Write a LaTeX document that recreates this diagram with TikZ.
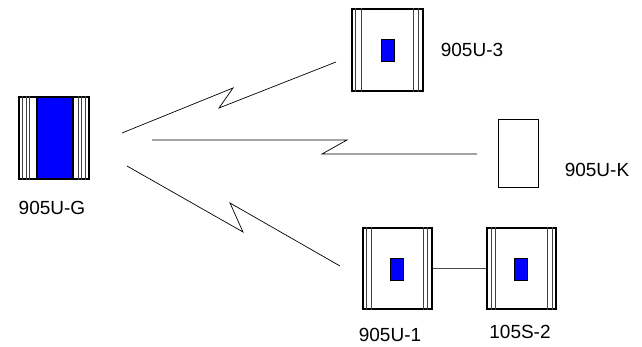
\documentclass[tikz,border=0pt]{standalone}
\usepackage{fontspec}
\setmainfont{Liberation Sans}
\begin{document}
\begin{tikzpicture}[x=1pt,y=-1pt,
  box/.style={rectangle, draw, fill=white, line width=1.2pt, inner sep=0pt, minimum width=70pt, minimum height=82pt},
  led/.style={rectangle, draw, fill=blue, line width=0.6pt, inner sep=0pt, minimum width=13pt, minimum height=22pt},
  rail/.style={draw=black!75, line width=0.5pt},
  radio/.style={draw, line width=0.7pt},
  link/.style={draw=black!70, line width=0.8pt},
  lbl/.style={font=\fontsize{19}{22}\selectfont, inner sep=0pt}]
\useasboundingbox (0,0) rectangle (642,347);
% gateway
\node[box] (gw) at (54,138){};
\draw[rail]([xshift=4pt]gw.north west) -- ([xshift=4pt]gw.south west);
\draw[rail]([xshift=8pt]gw.north west) -- ([xshift=8pt]gw.south west);
\draw[rail]([xshift=11pt]gw.north west) -- ([xshift=11pt]gw.south west);
\draw[rail]([xshift=-4pt]gw.north east) -- ([xshift=-4pt]gw.south east);
\draw[rail]([xshift=-8pt]gw.north east) -- ([xshift=-8pt]gw.south east);
\draw[rail]([xshift=-11pt]gw.north east) -- ([xshift=-11pt]gw.south east);
\node[led, minimum width=36pt, minimum height=82pt, line width=1.2pt] (gwled) at (55,138){};
\node[lbl] (gwlbl) at (52,208){905U-G};
% remote 3
\node[box, minimum width=71pt] (u3) at (387.5,50){};
\draw[rail]([xshift=4pt]u3.north west) -- ([xshift=4pt]u3.south west);
\draw[rail]([xshift=10pt]u3.north west) -- ([xshift=10pt]u3.south west);
\draw[rail]([xshift=-5pt]u3.north east) -- ([xshift=-5pt]u3.south east);
\draw[rail]([xshift=-10pt]u3.north east) -- ([xshift=-10pt]u3.south east);
\node[led] (u3led) at (387.5,50){};
\node[lbl] (u3lbl) at (472,50){905U-3};
% remote K
\node[box, minimum width=40pt, minimum height=68pt, line width=0.8pt] (uk) at (518,153){};
\node[lbl] (uklbl) at (597,170){905U-K};
% remote 1
\node[box, minimum width=69pt, minimum height=81pt] (u1) at (397.5,268.5){};
\draw[rail]([xshift=4pt]u1.north west) -- ([xshift=4pt]u1.south west);
\draw[rail]([xshift=9pt]u1.north west) -- ([xshift=9pt]u1.south west);
\draw[rail]([xshift=-5pt]u1.north east) -- ([xshift=-5pt]u1.south east);
\draw[rail]([xshift=-9pt]u1.north east) -- ([xshift=-9pt]u1.south east);
\node[led] (u1led) at (396.5,269){};
\node[lbl] (u1lbl) at (390,335){905U-1};
% module 2
\node[box, minimum width=69pt, minimum height=81pt] (s2) at (521.5,268.5){};
\draw[rail]([xshift=5pt]s2.north west) -- ([xshift=5pt]s2.south west);
\draw[rail]([xshift=9pt]s2.north west) -- ([xshift=9pt]s2.south west);
\draw[rail]([xshift=-4pt]s2.north east) -- ([xshift=-4pt]s2.south east);
\draw[rail]([xshift=-9pt]s2.north east) -- ([xshift=-9pt]s2.south east);
\node[led] (s2led) at (521,269){};
\node[lbl] (s2lbl) at (520,332){105S-2};
\draw[link](u1.east) -- (s2.west);
% radio paths
\coordinate (t0) at (122,133);
\coordinate (t1) at (233,88);
\coordinate (t2) at (219,108);
\coordinate (t3) at (336,62);
\draw[radio](t0) -- (t1) -- (t2) -- (t3);
\coordinate (m0) at (152,140);
\coordinate (m1) at (347,140);
\coordinate (m2) at (322,154);
\coordinate (m3) at (477,154);
\draw[radio](m0) -- (m1) -- (m2) -- (m3);
\coordinate (b0) at (127,166);
\coordinate (b1) at (243,232);
\coordinate (b2) at (230,203);
\coordinate (b3) at (340,266);
\draw[radio](b0) -- (b1) -- (b2) -- (b3);
\end{tikzpicture}
\end{document}
